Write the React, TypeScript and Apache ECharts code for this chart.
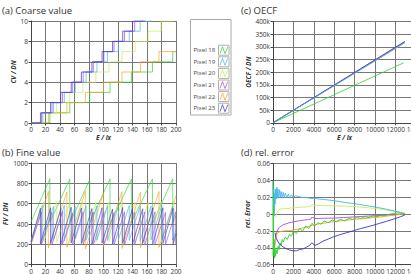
import { useEffect, useRef } from 'react';
import * as echarts from 'echarts';

const pixelNames = ['Pixel 18', 'Pixel 19', 'Pixel 20', 'Pixel 21', 'Pixel 22', 'Pixel 23'];
const pixelColors = ['#2ed12e', '#45b6ee', '#c6ee55', '#a64ee6', '#f3a424', '#3636c8'];

// (a) illuminance (lx) at which each pixel's coarse value steps up by one
const coarseSteps18 = [26, 53.5, 81, 109, 138.5, 167.5, 195.5];
const coarseSteps19 = [15.5, 31, 46, 61, 76, 91, 105.5, 120.5, 135.5, 150.5, 165.5, 180.5, 195.5];
const coarseSteps20 = [17.5, 35.5, 53.5, 71.5, 89.5, 107.5, 125.5, 143.5, 161.5, 179.5, 197.5];
const coarseSteps21 = [14.5, 29, 43.5, 57.5, 72, 86, 100.5, 114.5, 129, 143, 157, 171, 185.5, 199.5];
const coarseSteps22 = [24, 49.5, 75, 100, 125.5, 151, 176.5];
const coarseSteps23 = [13, 27, 41, 55.5, 69.5, 84, 98, 112.5, 126.5, 140, 154, 168, 182, 196];

// (b) fine value: value at 0 lx, at 200 lx, and just before / after every coarse step
const fineStart = [420, 228, 235, 205, 200, 225];
const fineEnd = [480, 344, 275, 207, 680, 305];
const finePeaks18 = [845, 842, 838, 845, 840, 843, 845];
const fineTroughs18 = [415, 405, 410, 400, 412, 405, 408];
const finePeaks19 = [580, 575, 585, 570, 580, 578, 582, 575, 580, 572, 578, 580, 575];
const fineTroughs19 = [240, 245, 235, 250, 240, 242, 238, 245, 240, 236, 244, 240, 242];
const finePeaks20 = [615, 620, 610, 625, 612, 618, 620, 615, 610, 618, 620];
const fineTroughs20 = [220, 225, 215, 222, 218, 225, 220, 215, 222, 218, 220];
const finePeaks21 = [520, 515, 525, 510, 520, 518, 522, 512, 520, 515, 518, 520, 515, 520];
const fineTroughs21 = [198, 195, 200, 195, 197, 195, 200, 196, 195, 198, 195, 197, 195, 196];
const finePeaks22 = [720, 715, 722, 700, 718, 712, 720];
const fineTroughs22 = [165, 170, 155, 175, 160, 168, 170];
const finePeaks23 = [555, 560, 550, 565, 558, 552, 560, 548, 562, 555, 550, 558, 560, 555];
const fineTroughs23 = [205, 210, 200, 215, 208, 200, 212, 205, 210, 200, 208, 205, 210, 205];

// (c) OECF
const oecfE = [0, 12900];
const oecfE18 = [0, 12800];
const oecf18 = [0, 237000];
const oecf19 = [0, 315000];
const oecf20 = [0, 318000];
const oecf21 = [0, 320000];
const oecf22 = [0, 317000];
const oecf23 = [0, 321000];

// (d) relative error
const relE18 = [0, 20, 40, 60, 100, 150, 200, 250, 300, 400, 500, 600, 700, 800, 900, 1000, 1200, 1400, 1600, 1800, 2000, 2300, 2600, 2900, 3200, 3500, 3800, 4100, 4400, 4700, 5000, 5400, 5800, 6200, 6600, 7000, 7400, 7800, 8200, 8600, 9000, 9400, 9800, 10200, 10600, 11000, 11400, 11800, 12200, 12600, 12900];
const relErr18 = [0.04, -0.05, 0.01, -0.045, -0.03, -0.052, -0.04, -0.05, -0.042, -0.047, -0.038, -0.042, -0.034, -0.037, -0.03, -0.033, -0.027, -0.03, -0.024, -0.026, -0.02, -0.023, -0.017, -0.02, -0.014, -0.017, -0.011, -0.014, -0.01, -0.012, -0.008, -0.01, -0.007, -0.009, -0.006, -0.008, -0.005, -0.006, -0.004, -0.005, -0.003, -0.004, -0.002, -0.003, -0.001, -0.0015, 0.0, 0.0008, 0.0015, 0.001, 0.001];
const relE19 = [0, 40, 80, 120, 160, 200, 260, 320, 380, 420, 480, 560, 640, 720, 800, 900, 1000, 1100, 1200, 1350, 1500, 1650, 1800, 2000, 2200, 2500, 2800, 3200, 3600, 3800, 4000, 4500, 5000, 6000, 7000, 8000, 9000, 10000, 11000, 12000, 12500, 12900];
const relErr19 = [0.038, 0.005, 0.03, -0.002, 0.025, 0.012, 0.03, 0.018, 0.032, 0.02, 0.03, 0.019, 0.029, 0.02, 0.027, 0.019, 0.026, 0.02, 0.025, 0.02, 0.024, 0.019, 0.023, 0.02, 0.022, 0.021, 0.02, 0.02, 0.019, 0.0185, 0.019, 0.018, 0.0175, 0.016, 0.014, 0.0125, 0.0105, 0.0085, 0.0062, 0.0035, 0.002, 0.0];
const relE20 = [250, 350, 500, 700, 1000, 1500, 2000, 2500, 3000, 3500, 3700, 3800, 4000, 4500, 5000, 6000, 7000, 8000, 9000, 10000, 11000, 12000, 12900];
const relErr20 = [-0.004, 0.001, 0.004, 0.006, 0.0065, 0.007, 0.0075, 0.008, 0.0085, 0.009, 0.0095, 0.0115, 0.0105, 0.0105, 0.0103, 0.01, 0.0095, 0.009, 0.008, 0.0068, 0.0052, 0.0032, 0.001];
const relE21 = [150, 250, 400, 600, 800, 1000, 1500, 2000, 2500, 3000, 3400, 3700, 3800, 3900, 4100, 4500, 5000, 5900, 6900, 7900, 8900, 9900, 10500, 11200, 12000, 12900];
const relErr21 = [-0.038, -0.028, -0.02, -0.016, -0.014, -0.0125, -0.0105, -0.009, -0.008, -0.007, -0.0065, -0.006, -0.0035, -0.004, -0.005, -0.005, -0.0048, -0.0046, -0.004, -0.0032, -0.0025, -0.0018, -0.0015, -0.001, -0.0005, 0.0];
const relE22 = [150, 250, 400, 600, 800, 1000, 1500, 2000, 2500, 3000, 3500, 3900, 4500, 5200, 5900, 6900, 7900, 8900, 9900, 10500, 11200, 12000, 12900];
const relErr22 = [-0.04, -0.028, -0.023, -0.021, -0.0205, -0.02, -0.0195, -0.0188, -0.0175, -0.016, -0.0145, -0.013, -0.0115, -0.0102, -0.009, -0.0075, -0.0063, -0.0052, -0.004, -0.0032, -0.0022, -0.001, 0.0005];
const relE23 = [200, 300, 450, 600, 800, 1000, 1300, 1600, 2000, 2300, 2600, 3000, 3300, 3600, 3800, 3900, 4100, 4500, 4900, 5400, 5900, 6500, 7200, 7900, 8600, 9300, 9800, 10400, 11100, 11800, 12500, 12900];
const relErr23 = [-0.022, -0.028, -0.032, -0.035, -0.037, -0.039, -0.041, -0.0425, -0.0435, -0.0435, -0.042, -0.041, -0.039, -0.037, -0.034, -0.035, -0.037, -0.035, -0.032, -0.0295, -0.027, -0.0245, -0.022, -0.0195, -0.017, -0.0148, -0.0132, -0.011, -0.0085, -0.0058, -0.003, -0.001];

const FONT = '"Open Sans", "Noto Sans", sans-serif';

const coarseSteps = [coarseSteps18, coarseSteps19, coarseSteps20, coarseSteps21, coarseSteps22, coarseSteps23];
const finePeaks = [finePeaks18, finePeaks19, finePeaks20, finePeaks21, finePeaks22, finePeaks23];
const fineTroughs = [fineTroughs18, fineTroughs19, fineTroughs20, fineTroughs21, fineTroughs22, fineTroughs23];
const oecfVals = [oecf18, oecf19, oecf20, oecf21, oecf22, oecf23];
const relE = [relE18, relE19, relE20, relE21, relE22, relE23];
const relErr = [relErr18, relErr19, relErr20, relErr21, relErr22, relErr23];

const zip = (xs: number[], ys: number[]) => xs.map((x, i) => [x, ys[i]]);

function coarseData(steps: number[]) {
  const pts: number[][] = [[0, 0]];
  steps.forEach((x, i) => pts.push([x, i + 1]));
  pts.push([200, steps.length]);
  return pts;
}

function fineData(p: number) {
  const pts: number[][] = [[0, fineStart[p]]];
  coarseSteps[p].forEach((x, i) => {
    pts.push([x, finePeaks[p][i]]);
    pts.push([x, fineTroughs[p][i]]);
  });
  pts.push([200, fineEnd[p]]);
  return pts;
}

const axisColor = '#444';
const gridColor = '#777';
const labelStyle = { fontSize: 6.5, color: '#333', fontFamily: FONT, margin: 3 };
const nameStyle = { fontSize: 6.5, fontWeight: 'bold', fontStyle: 'italic', color: '#333', fontFamily: FONT };

function xAxisCfg(grid: number, max: number, interval: number, name: string) {
  return {
    type: 'value', gridIndex: grid, min: 0, max, interval,
    name, nameLocation: 'middle', nameGap: 10, nameTextStyle: nameStyle,
    axisLine: { show: true, onZero: false, lineStyle: { color: axisColor } },
    axisTick: { show: true, length: 2.5, lineStyle: { color: axisColor } },
    axisLabel: { ...labelStyle, margin: 3, interval: 0, showMaxLabel: true, formatter: (v: number) => String(v) },
    splitLine: { show: true, lineStyle: { color: gridColor, width: 1 } },
  };
}

function yAxisCfg(grid: number, min: number, max: number, interval: number, name: string, gap: number, fmt?: (v: number) => string) {
  return {
    type: 'value', gridIndex: grid, min, max, interval,
    name, nameLocation: 'middle', nameGap: gap, nameRotate: 90, nameTextStyle: nameStyle,
    axisLine: { show: true, onZero: false, lineStyle: { color: axisColor } },
    axisTick: { show: true, length: 2.5, lineStyle: { color: axisColor } },
    axisLabel: { ...labelStyle, interval: 0, formatter: fmt ?? ((v: number) => String(v)) },
    splitLine: { show: true, lineStyle: { color: gridColor, width: 1 } },
  };
}

// drawing order inside each panel (last one on top)
const orderA = [0, 4, 2, 1, 3, 5];
const orderC = [0, 2, 4, 3, 5, 1];
const orderD = [2, 1, 3, 4, 0, 5];

function lineSeries(p: number, xi: number, data: number[][], opacity = 1, width = 1, extra: object = {}) {
  return {
    type: 'line', name: pixelNames[p], xAxisIndex: xi, yAxisIndex: xi,
    data, symbol: 'none', clip: true, silent: true,
    lineStyle: { color: pixelColors[p], width, opacity },
    itemStyle: { color: pixelColors[p] },
    ...extra,
  };
}

function legendGraphics() {
  const els: any[] = [
    { type: 'rect', shape: { x: 190.5, y: 19.5, width: 40.5, height: 95.5 }, style: { fill: '#fff', stroke: '#a8a8a8', lineWidth: 1 } },
  ];
  pixelNames.forEach((n, i) => {
    const cy = 50.2 + i * 11.6;
    els.push({ type: 'text', x: 193.5, y: cy, style: { text: n, fontSize: 6, fontFamily: FONT, fill: '#444', verticalAlign: 'middle', align: 'left' } });
    els.push({ type: 'rect', shape: { x: 218.5, y: cy - 5, width: 10.5, height: 10 }, style: { fill: '#fff', stroke: '#b0b0b0', lineWidth: 1 } });
    els.push({
      type: 'polyline',
      shape: { points: [[220, cy + 3.5], [222.5, cy - 3.5], [225, cy + 3.5], [227.8, cy - 3.5]] },
      style: { stroke: pixelColors[i], lineWidth: 0.9, fill: null, opacity: 0.8 },
    });
  });
  return els;
}

function titleText(text: string, x: number, y: number) {
  return { type: 'text', x, y, style: { text, fontSize: 9.5, fontFamily: FONT, fill: '#333', verticalAlign: 'middle', align: 'left' } };
}

export default function App() {
  const ref = useRef<HTMLDivElement>(null);
  useEffect(() => {
    if (!ref.current) return;
    const chart = echarts.init(ref.current, null, { renderer: 'svg' });
    const series: any[] = [];
    orderA.forEach((p) => series.push(lineSeries(p, 0, coarseData(coarseSteps[p]), 0.7, 1, { step: 'end' })));
    orderA.forEach((p) => series.push(lineSeries(p, 1, fineData(p), 0.7, 0.9)));
    orderC.forEach((p) => series.push(lineSeries(p, 2, zip(p === 0 ? oecfE18 : oecfE, oecfVals[p]), 0.8, 1)));
    orderD.forEach((p) => series.push(lineSeries(p, 3, zip(relE[p], relErr[p]), 0.9, 1)));

    const gridBase = { outerBoundsMode: 'none', containLabel: false };
    chart.setOption({
      animation: false,
      backgroundColor: '#fff',
      textStyle: { fontFamily: FONT },
      grid: [
        { ...gridBase, left: 31, top: 21, width: 145, height: 102 },
        { ...gridBase, left: 31, top: 163, width: 145, height: 101.7 },
        { ...gridBase, left: 273, top: 21.5, width: 143, height: 101.3 },
        { ...gridBase, left: 273, top: 163.7, width: 143, height: 101 },
      ],
      xAxis: [
        xAxisCfg(0, 200, 20, 'E / lx'),
        xAxisCfg(1, 200, 20, ''),
        xAxisCfg(2, 14000, 2000, 'E / lx'),
        xAxisCfg(3, 14000, 2000, ''),
      ],
      yAxis: [
        yAxisCfg(0, 0, 10, 2, 'CV / DN', 10.5),
        yAxisCfg(1, 0, 1000, 200, 'FV / DN', 20),
        yAxisCfg(2, 0, 400000, 50000, 'OECF / DN', 18.5),
        yAxisCfg(3, -0.06, 0.06, 0.02, 'rel. Error', 21.5, (v: number) => (Math.abs(v) < 1e-9 ? '0' : v.toFixed(2))),
      ].map((a, i) => (i === 2 ? { ...a, axisLabel: { ...a.axisLabel, formatter: (v: number) => (v === 0 ? '0' : `${Math.round(v / 1000)}k`) } } : a)),
      graphic: [
        titleText('(a) Coarse value', 2, 10.7),
        titleText('(c) OECF', 241, 10.7),
        titleText('(b) Fine value', 2, 152.8),
        titleText('(d) rel. error', 241, 152.5),
        ...legendGraphics(),
      ],
      series,
    });
    return () => chart.dispose();
  }, []);
  return <div ref={ref} style={{ position: 'absolute', left: 0, top: 0, width: 411, height: 274 }} />;
}
